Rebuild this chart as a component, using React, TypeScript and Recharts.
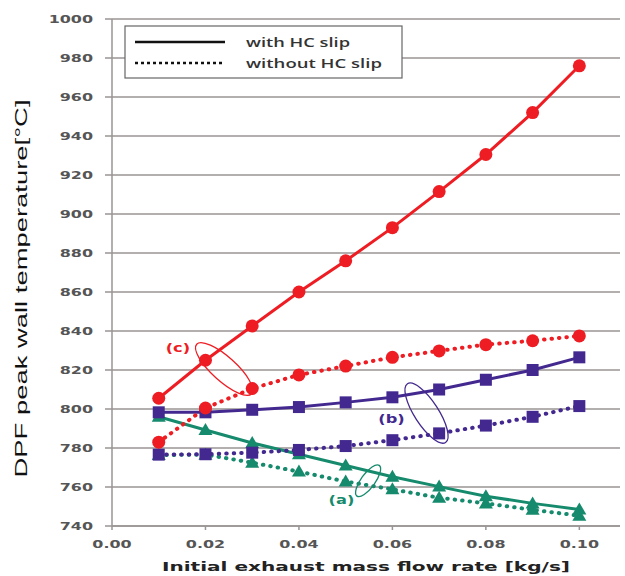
import React from 'react';
import {
  LineChart,
  Line,
  XAxis,
  YAxis,
  CartesianGrid,
  ReferenceDot,
  Label,
} from 'recharts';

const flowRates = [0.01, 0.02, 0.03, 0.04, 0.05, 0.06, 0.07, 0.08, 0.09, 0.1];
const redWith = [805.5, 825, 842.6, 860, 876, 893, 911.5, 930.5, 952, 976];
const redWithout = [783, 800.5, 810.5, 817.5, 822, 826.5, 829.8, 833, 835, 837.5];
const purpleWith = [798.3, 798.3, 799.6, 801, 803.4, 806, 810, 815, 820, 826.5];
const purpleWithout = [776.6, 776.8, 777.6, 779, 781, 784, 787.5, 791.5, 796, 801.5];
const greenWith = [796, 789.2, 782.6, 776.8, 771, 765.3, 760.2, 755.3, 751.6, 748.5];
const greenWithout = [776.4, 776.6, 772.5, 767.9, 762.8, 758.8, 754.5, 751.6, 748.3, 745.3];

const xTicks = [0, 0.02, 0.04, 0.06, 0.08, 0.1];
const yTicks = [740, 760, 780, 800, 820, 840, 860, 880, 900, 920, 940, 960, 980, 1000];

const legendItems = ['with HC slip', 'without HC slip'];

const RED = '#ee1d23';
const PURPLE = '#43298f';
const GREEN = '#168a6c';

const data = flowRates.map((x, i) => ({
  x,
  redWith: redWith[i],
  redWithout: redWithout[i],
  purpleWith: purpleWith[i],
  purpleWithout: purpleWithout[i],
  greenWith: greenWith[i],
  greenWithout: greenWithout[i],
}));

// annotation ellipses: data position, semi-axes (px) and tilt
const rings = [
  { name: 'c', x: 0.024, y: 820.5, rx: 37, ry: 12, rot: 42, color: RED },
  { name: 'b', x: 0.0673, y: 797.9, rx: 35, ry: 12, rot: 57, color: PURPLE },
  { name: 'a', x: 0.0548, y: 763.2, rx: 19, ry: 7, rot: -54, color: GREEN },
];
const ringLabels = [
  { text: '(c)', x: 0.0141, y: 831.8, color: RED },
  { text: '(b)', x: 0.0598, y: 795.2, color: PURPLE },
  { text: '(a)', x: 0.0491, y: 753.8, color: GREEN },
];

const tickFont = 'DejaVu Sans, sans-serif';

const circleDot = (color: string) => (p: any) => (
  <circle key={p.index} cx={p.cx} cy={p.cy} r={6.5} fill={color} />
);
const squareDot = (color: string) => (p: any) => (
  <rect key={p.index} x={p.cx - 6} y={p.cy - 6} width={12} height={12} fill={color} />
);
const triDot = (color: string) => (p: any) => (
  <polygon
    key={p.index}
    points={`${p.cx},${p.cy - 7} ${p.cx + 7},${p.cy + 5} ${p.cx - 7},${p.cy + 5}`}
    fill={color}
  />
);

const XTick = (p: any) => (
  <text
    transform={`translate(${p.x},${p.y + 10}) scale(1.45,1)`}
    textAnchor="middle"
    fontFamily={tickFont}
    fontWeight="bold"
    fontSize={11}
    fill="#555"
  >
    {Number(p.payload.value).toFixed(2)}
  </text>
);

const YTick = (p: any) => (
  <text
    transform={`translate(${p.x},${p.y + 4}) scale(1.45,1)`}
    textAnchor="end"
    fontFamily={tickFont}
    fontWeight="bold"
    fontSize={11}
    fill="#555"
  >
    {p.payload.value}
  </text>
);

const dotted = { strokeDasharray: '0.5 7', strokeLinecap: 'round' as const, strokeWidth: 4 };

export default function App() {
  return (
    <div style={{ position: 'relative', width: 625, height: 576 }}>
      <style>{'body{margin:0}'}</style>
      <LineChart
        width={625}
        height={576}
        data={data}
        margin={{ top: 19, right: 5, bottom: 0, left: 0 }}
      >
        <CartesianGrid vertical={false} stroke="#9a9595" strokeWidth={1.5} />
        <XAxis
          dataKey="x"
          type="number"
          domain={[0, 0.1087]}
          ticks={xTicks}
          allowDataOverflow
          height={50}
          stroke="#9a9595"
          strokeWidth={1.5}
          tickSize={4}
          tickMargin={8}
          tick={XTick}
        >
          <Label
            content={(p: any) => (
              <text
                x={p.viewBox.x + p.viewBox.width / 2}
                y={p.viewBox.y + 45}
                textAnchor="middle"
                textLength={408}
                lengthAdjust="spacingAndGlyphs"
                fontFamily={tickFont}
                fontWeight="bold"
                fontSize={13}
                fill="#222"
              >
                Initial exhaust mass flow rate [kg/s]
              </text>
            )}
          />
        </XAxis>
        <YAxis
          type="number"
          domain={[740, 1000]}
          ticks={yTicks}
          width={112}
          stroke="#9a9595"
          strokeWidth={1.5}
          tickSize={7}
          tickMargin={12}
          tick={YTick}
        >
          <Label
            content={(p: any) => {
              const cy = p.viewBox.y + p.viewBox.height / 2 + 16;
              return (
                <text
                  transform={`translate(27,${cy}) rotate(-90)`}
                  textAnchor="middle"
                  textLength={378}
                  lengthAdjust="spacingAndGlyphs"
                  fontFamily="Liberation Sans, Arial, sans-serif"
                  fontSize={17}
                  fill="#111"
                >
                  DPF peak wall temperature[°C]
                </text>
              );
            }}
          />
        </YAxis>

        <Line dataKey="greenWithout" stroke={GREEN} {...dotted} dot={triDot(GREEN)} isAnimationActive={false} />
        <Line dataKey="greenWith" stroke={GREEN} strokeWidth={3} dot={triDot(GREEN)} isAnimationActive={false} />
        <Line dataKey="purpleWithout" stroke={PURPLE} {...dotted} dot={squareDot(PURPLE)} isAnimationActive={false} />
        <Line dataKey="purpleWith" stroke={PURPLE} strokeWidth={3} dot={squareDot(PURPLE)} isAnimationActive={false} />
        <Line dataKey="redWithout" stroke={RED} {...dotted} dot={circleDot(RED)} isAnimationActive={false} />
        <Line dataKey="redWith" stroke={RED} strokeWidth={3} dot={circleDot(RED)} isAnimationActive={false} />

        {rings.map((r) => (
          <ReferenceDot
            key={r.name}
            x={r.x}
            y={r.y}
            shape={(p: any) => (
              <ellipse
                cx={p.cx}
                cy={p.cy}
                rx={r.rx}
                ry={r.ry}
                transform={`rotate(${r.rot},${p.cx},${p.cy})`}
                fill="none"
                stroke={r.color}
                strokeWidth={1.3}
              />
            )}
          />
        ))}
        {ringLabels.map((l) => (
          <ReferenceDot
            key={l.text}
            x={l.x}
            y={l.y}
            shape={(p: any) => (
              <text
                transform={`translate(${p.cx},${p.cy + 5}) scale(1.35,1)`}
                textAnchor="middle"
                fontFamily={tickFont}
                fontWeight="bold"
                fontSize={12}
                fill={l.color}
              >
                {l.text}
              </text>
            )}
          />
        ))}
      </LineChart>

      <svg
        width={280}
        height={55}
        style={{ position: 'absolute', left: 124, top: 25 }}
      >
        <rect x={1} y={1} width={277} height={52} fill="#fff" stroke="#666" strokeWidth={1.2} />
        <line x1={11} x2={101} y1={17} y2={17} stroke="#111" strokeWidth={2.5} />
        <line x1={11} x2={101} y1={38} y2={38} stroke="#111" strokeWidth={2.5} strokeDasharray="3 3" />
        {legendItems.map((t, i) => (
          <text
            key={t}
            x={122}
            y={22 + i * 21}
            textLength={i === 0 ? 104 : 136}
            lengthAdjust="spacingAndGlyphs"
            fontFamily="Open Sans, sans-serif"
            fontWeight={600}
            fontSize={13}
            fill="#333"
          >
            {t}
          </text>
        ))}
      </svg>
    </div>
  );
}
